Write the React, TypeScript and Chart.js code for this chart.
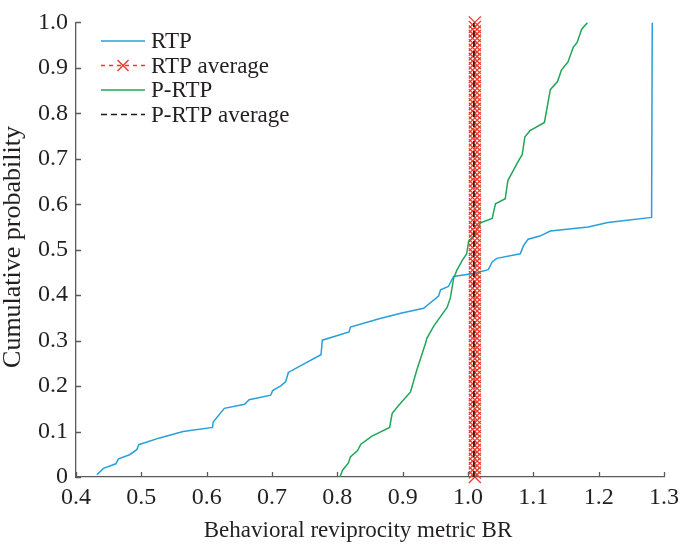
import { useEffect, useRef } from 'react';
import { Chart, registerables } from 'chart.js';

Chart.register(...registerables);

const xTickValues = [0.4, 0.5, 0.6, 0.7, 0.8, 0.9, 1.0, 1.1, 1.2, 1.3];
const xTickLabels = ['0.4', '0.5', '0.6', '0.7', '0.8', '0.9', '1.0', '1.1', '1.2', '1.3'];
const yTickValues = [0, 0.1, 0.2, 0.3, 0.4, 0.5, 0.6, 0.7, 0.8, 0.9, 1.0];
const yTickLabels = ['0', '0.1', '0.2', '0.3', '0.4', '0.5', '0.6', '0.7', '0.8', '0.9', '1.0'];

const xTitle = 'Behavioral reviprocity metric BR';
const yTitle = 'Cumulative probability';

const rtpX = [0.432, 0.442, 0.461, 0.465, 0.482, 0.493, 0.496, 0.528, 0.564, 0.609, 0.610, 0.627, 0.658, 0.665, 0.698, 0.701, 0.714, 0.721, 0.725, 0.749, 0.775, 0.777, 0.818, 0.820, 0.864, 0.897, 0.932, 0.955, 0.958, 0.970, 0.978, 1.011, 1.031, 1.037, 1.044, 1.080, 1.085, 1.092, 1.110, 1.126, 1.184, 1.214, 1.281, 1.282];
const rtpY = [0.005, 0.019, 0.029, 0.040, 0.049, 0.060, 0.071, 0.086, 0.100, 0.109, 0.121, 0.151, 0.160, 0.170, 0.180, 0.190, 0.201, 0.210, 0.230, 0.249, 0.269, 0.301, 0.319, 0.330, 0.348, 0.360, 0.371, 0.398, 0.412, 0.419, 0.441, 0.448, 0.456, 0.473, 0.481, 0.491, 0.509, 0.523, 0.530, 0.541, 0.550, 0.560, 0.571, 1.0];

const prtpX = [0.804, 0.808, 0.817, 0.820, 0.831, 0.836, 0.853, 0.880, 0.884, 0.894, 0.912, 0.922, 0.935, 0.937, 0.948, 0.968, 0.973, 0.978, 0.983, 0.991, 0.998, 1.001, 1.009, 1.019, 1.037, 1.042, 1.057, 1.061, 1.077, 1.083, 1.087, 1.095, 1.117, 1.126, 1.137, 1.143, 1.153, 1.161, 1.167, 1.174, 1.183];
const prtpY = [0.0, 0.015, 0.031, 0.044, 0.058, 0.072, 0.090, 0.109, 0.140, 0.158, 0.187, 0.237, 0.294, 0.305, 0.333, 0.373, 0.394, 0.437, 0.455, 0.476, 0.491, 0.519, 0.530, 0.559, 0.569, 0.601, 0.612, 0.652, 0.695, 0.709, 0.748, 0.762, 0.780, 0.852, 0.870, 0.895, 0.913, 0.945, 0.956, 0.985, 1.0];

const rtpAverage = 1.0105;
const prtpAverage = 1.009;
const averageMarkerY = [
  0.00, 0.01, 0.02, 0.03, 0.04, 0.05, 0.06, 0.07, 0.08, 0.09,
  0.10, 0.11, 0.12, 0.13, 0.14, 0.15, 0.16, 0.17, 0.18, 0.19,
  0.20, 0.21, 0.22, 0.23, 0.24, 0.25, 0.26, 0.27, 0.28, 0.29,
  0.30, 0.31, 0.32, 0.33, 0.34, 0.35, 0.36, 0.37, 0.38, 0.39,
  0.40, 0.41, 0.42, 0.43, 0.44, 0.45, 0.46, 0.47, 0.48, 0.49,
  0.50, 0.51, 0.52, 0.53, 0.54, 0.55, 0.56, 0.57, 0.58, 0.59,
  0.60, 0.61, 0.62, 0.63, 0.64, 0.65, 0.66, 0.67, 0.68, 0.69,
  0.70, 0.71, 0.72, 0.73, 0.74, 0.75, 0.76, 0.77, 0.78, 0.79,
  0.80, 0.81, 0.82, 0.83, 0.84, 0.85, 0.86, 0.87, 0.88, 0.89,
  0.90, 0.91, 0.92, 0.93, 0.94, 0.95, 0.96, 0.97, 0.98, 0.99,
  1.00,
];
const prtpAverageY = [0, 1];

const seriesLabels = ['RTP', 'RTP average', 'P-RTP', 'P-RTP average'];

const BLUE = 'rgb(38,160,218)';
const RED = 'rgb(236,58,42)';
const GREEN = 'rgb(32,166,88)';
const BLACK = '#1a1a1a';
const AXIS = '#5a5a5a';
const TEXT = '#231f20';
const FONT = "'Liberation Serif', 'Times New Roman', serif";

const legendPlugin = {
  id: 'insideLegend',
  afterDraw(chart: any) {
    const ctx = chart.ctx;
    const ds = chart.data.datasets;
    ctx.save();
    ctx.font = `23px ${FONT}`;
    ctx.textBaseline = 'middle';
    ctx.textAlign = 'left';
    const x0 = 101;
    const x1 = 145;
    for (let i = 0; i < ds.length; i++) {
      const d = ds[i];
      const y = 41 + i * 24.5;
      ctx.strokeStyle = d.borderColor;
      ctx.lineWidth = 1.5;
      ctx.setLineDash(d.borderDash || []);
      ctx.beginPath();
      ctx.moveTo(x0, y);
      ctx.lineTo(x1, y);
      ctx.stroke();
      ctx.setLineDash([]);
      if (d.pointRadius > 0) {
        const cx = (x0 + x1) / 2;
        const r = 5.5;
        ctx.strokeStyle = d.pointBorderColor;
        ctx.lineWidth = 1.4;
        ctx.beginPath();
        ctx.moveTo(cx - r, y - r);
        ctx.lineTo(cx + r, y + r);
        ctx.moveTo(cx - r, y + r);
        ctx.lineTo(cx + r, y - r);
        ctx.stroke();
      }
      ctx.fillStyle = TEXT;
      ctx.fillText(d.label, 151, y + 1);
    }
    ctx.restore();
  },
};

const axisPlugin = {
  id: 'inwardTicksAndTitles',
  afterDraw(chart: any) {
    const ctx = chart.ctx;
    const xs = chart.scales.x;
    const ys = chart.scales.y;
    const area = chart.chartArea;
    ctx.save();
    ctx.strokeStyle = AXIS;
    ctx.lineWidth = 1.3;
    ctx.beginPath();
    xTickValues.forEach((v) => {
      const px = Math.round(xs.getPixelForValue(v)) + 0.5;
      ctx.moveTo(px, area.bottom);
      ctx.lineTo(px, area.bottom - 5);
    });
    yTickValues.forEach((v) => {
      const py = Math.round(ys.getPixelForValue(v)) + 0.5;
      ctx.moveTo(area.left, py);
      ctx.lineTo(area.left + 5, py);
    });
    ctx.stroke();

    ctx.fillStyle = TEXT;
    ctx.textAlign = 'center';
    ctx.textBaseline = 'alphabetic';
    ctx.font = `23px ${FONT}`;
    ctx.fillText(xTitle, 358, 537);

    ctx.font = `26px ${FONT}`;
    ctx.translate(20, 247);
    ctx.rotate(-Math.PI / 2);
    ctx.fillText(yTitle, 0, 0);
    ctx.restore();
  },
};

export default function App() {
  const ref = useRef<HTMLCanvasElement>(null);

  useEffect(() => {
    const canvas = ref.current;
    if (!canvas) return;
    const chart = new Chart(canvas, {
      type: 'line',
      data: {
        datasets: [
          {
            label: seriesLabels[0],
            data: rtpX.map((x, i) => ({ x, y: rtpY[i] })),
            borderColor: BLUE,
            borderWidth: 1.5,
            pointRadius: 0,
            tension: 0,
            fill: false,
            order: 3,
          },
          {
            label: seriesLabels[1],
            data: averageMarkerY.map((y) => ({ x: rtpAverage, y })),
            borderColor: RED,
            borderWidth: 1.5,
            borderDash: [4, 4],
            pointStyle: 'crossRot',
            pointRadius: 8.5,
            pointBorderColor: RED,
            pointBorderWidth: 1.3,
            pointBackgroundColor: RED,
            tension: 0,
            fill: false,
            clip: false,
            order: 1,
          },
          {
            label: seriesLabels[2],
            data: prtpX.map((x, i) => ({ x, y: prtpY[i] })),
            borderColor: GREEN,
            borderWidth: 1.5,
            pointRadius: 0,
            tension: 0,
            fill: false,
            order: 2,
          },
          {
            label: seriesLabels[3],
            data: prtpAverageY.map((y) => ({ x: prtpAverage, y })),
            borderColor: BLACK,
            borderWidth: 1.6,
            borderDash: [6, 4],
            pointRadius: 0,
            tension: 0,
            fill: false,
            order: 0,
          },
        ],
      } as any,
      options: {
        animation: false,
        responsive: false,
        devicePixelRatio: 1,
        events: [],
        layout: { padding: { top: 11, right: 19, left: 0, bottom: 0 } },
        plugins: {
          legend: { display: false },
          tooltip: { enabled: false },
        },
        scales: {
          x: {
            type: 'linear',
            min: 0.4,
            max: 1.3,
            afterBuildTicks: (s: any) => {
              s.ticks = xTickValues.map((v) => ({ value: v }));
            },
            afterFit: (s: any) => {
              s.height = 71;
            },
            grid: { display: true, drawOnChartArea: false, drawTicks: false },
            border: { display: true, color: AXIS, width: 1.3 },
            ticks: {
              padding: 6,
              color: TEXT,
              font: { family: FONT, size: 24 },
              autoSkip: false,
              maxRotation: 0,
              callback: (_v: any, i: number) => xTickLabels[i],
            },
            title: { display: false },
          },
          y: {
            type: 'linear',
            min: 0,
            max: 1,
            afterBuildTicks: (s: any) => {
              s.ticks = yTickValues.map((v) => ({ value: v }));
            },
            afterFit: (s: any) => {
              s.width = 76;
            },
            grid: { display: true, drawOnChartArea: false, drawTicks: false },
            border: { display: true, color: AXIS, width: 1.3 },
            ticks: {
              padding: 8,
              color: TEXT,
              font: { family: FONT, size: 24 },
              autoSkip: false,
              callback: (_v: any, i: number) => yTickLabels[i],
            },
            title: { display: false },
          },
        },
      } as any,
      plugins: [axisPlugin, legendPlugin],
    });
    return () => chart.destroy();
  }, []);

  return (
    <div style={{ position: 'fixed', left: 0, top: 0, width: 685, height: 548, background: '#fff' }}>
      <canvas ref={ref} width={685} height={548} style={{ width: 685, height: 548, display: 'block' }} />
    </div>
  );
}
